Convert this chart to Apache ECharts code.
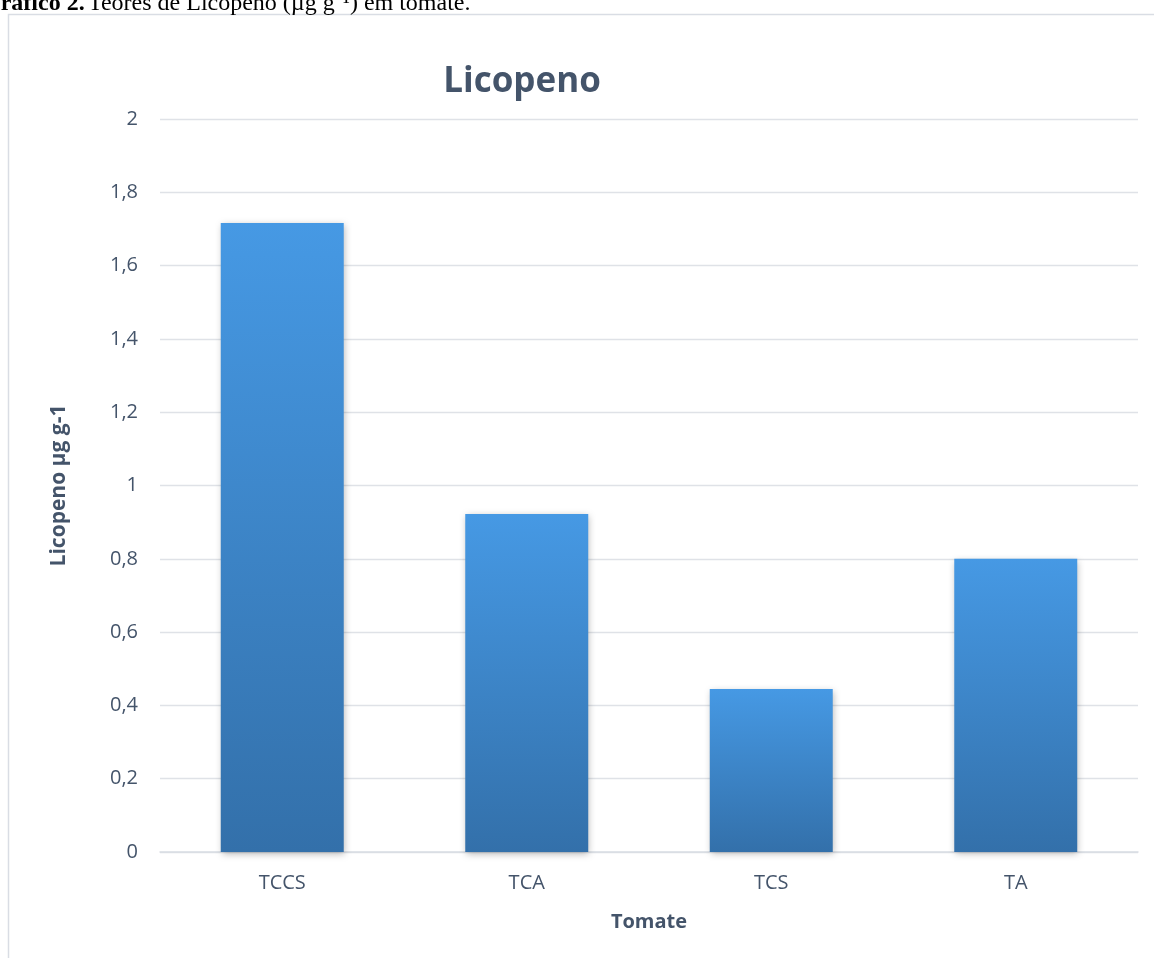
<!DOCTYPE html>
<html><head><meta charset="utf-8">
<script src="https://cdn.jsdelivr.net/npm/echarts@6/dist/echarts.min.js"></script>
<style>html,body{margin:0;padding:0;background:#fff}#c{width:1154px;height:958px}</style>
</head><body><div id="c"></div>
<script>
const categories = ['TCCS', 'TCA', 'TCS', 'TA'];
const licopeno = [1.716, 0.922, 0.445, 0.80];
const yTicks = [0, 0.2, 0.4, 0.6, 0.8, 1, 1.2, 1.4, 1.6, 1.8, 2];

const chart = echarts.init(document.getElementById('c'), null, {renderer: 'canvas'});
const fontFam = '"Open Sans", "Noto Sans", sans-serif';
chart.setOption({
  animation: false,
  backgroundColor: '#fff',
  graphic: [
    {type: 'rect', shape: {x: 8.5, y: 14.5, width: 1160, height: 960}, style: {fill: 'none', stroke: '#d9dde4', lineWidth: 1.5}, silent: true},
    {type: 'text', x: -18, y: 16, style: {verticalAlign: 'bottom', rich: {b: {font: 'bold 24px "Liberation Serif", serif', fill: '#000'}, n: {font: '24px "Liberation Serif", serif', fill: '#000'}}, text: '{b|Gráfico 2.} {n|Teores de Licopeno (µg g⁻¹) em tomate.}'}}
  ],
  title: {
    text: 'Licopeno', left: 517, top: 60, textAlign: 'center',
    textStyle: {fontFamily: fontFam, fontSize: 35, fontWeight: 'bold', color: '#44546a'}
  },
  grid: {left: 160, right: 16, top: 119, bottom: 106, containLabel: false},
  xAxis: {
    type: 'category', data: categories,
    name: 'Tomate', nameLocation: 'middle', nameGap: 60,
    nameTextStyle: {fontFamily: fontFam, fontSize: 20, fontWeight: 'bold', color: '#44546a'},
    axisLine: {lineStyle: {color: '#d9dde4', width: 1.5}},
    axisTick: {show: false},
    axisLabel: {fontFamily: fontFam, fontSize: 20, color: '#44546a', margin: 21}
  },
  yAxis: {
    type: 'value', min: 0, max: 2, interval: 0.2,
    name: 'Licopeno µg g-1', nameLocation: 'middle', nameGap: 90, nameRotate: 90,
    nameTextStyle: {fontFamily: fontFam, fontSize: 21, fontWeight: 'bold', color: '#44546a'},
    axisLine: {show: false}, axisTick: {show: false},
    splitLine: {lineStyle: {color: '#dfe2e7', width: 1.3}},
    axisLabel: {
      fontFamily: fontFam, fontSize: 20, color: '#44546a', margin: 22,
      formatter: v => { const t = yTicks.find(x => Math.abs(x - v) < 1e-6); return (t !== undefined ? t : v).toString().replace('.', ','); }
    }
  },
  series: [{
    type: 'bar', data: licopeno, barWidth: '50.3%',
    itemStyle: {
      color: new echarts.graphic.LinearGradient(0, 0, 0, 1, [
        {offset: 0, color: '#4699e4'},
        {offset: 1, color: '#3370aa'}
      ]),
      shadowColor: 'rgba(0,0,0,0.28)', shadowBlur: 7, shadowOffsetX: 1, shadowOffsetY: 2
    }
  }]
});
</script></body></html>
